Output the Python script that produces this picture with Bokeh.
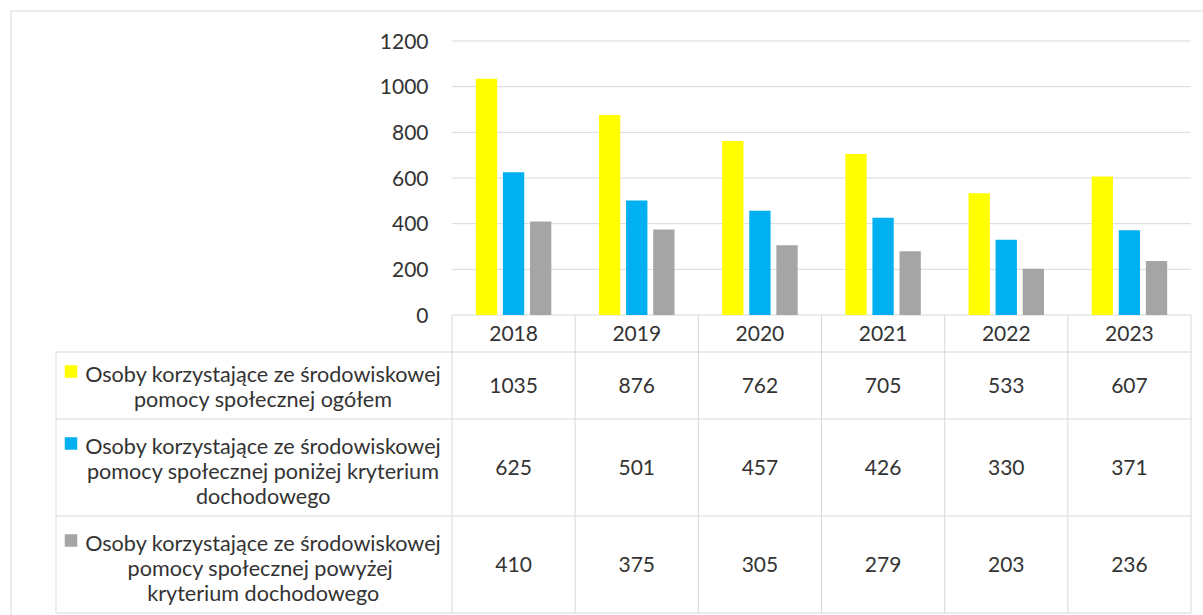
import numpy as np
from bokeh.plotting import figure
from bokeh.models import Range1d, FixedTicker
from bokeh.core.properties import value
from bokeh.embed import file_html
from bokeh.resources import INLINE

# ---------------- data ----------------
years = ["2018", "2019", "2020", "2021", "2022", "2023"]
ogolem = [1035, 876, 762, 705, 533, 607]
ponizej = [625, 501, 457, 426, 330, 371]
powyzej = [410, 375, 305, 279, 203, 236]
series_labels = [
    "Osoby korzystające ze środowiskowej\npomocy społecznej ogółem",
    "Osoby korzystające ze środowiskowej\npomocy społecznej poniżej kryterium\ndochodowego",
    "Osoby korzystające ze środowiskowej\npomocy społecznej  powyżej\nkryterium dochodowego",
]
colors = ["#FFFF00", "#00B0F0", "#A5A5A5"]
y_ticks = [0, 200, 400, 600, 800, 1000, 1200]

# ---------------- layout constants (page pixels) ----------------
FONT = "Lato"
FSIZE = "21px"
LSIZE = "21.6px"
TXT = "#333333"
LINE = "#D9D9D9"
W, H = 1203, 615
PLOT_L, PLOT_R = 451.5, 1190.5      # page x of year columns
PLOT_T, ZERO_Y = 40.5, 314.5        # page y of 1200 and 0
ROWS = [351.5, 418.5, 515.5, 612.5]  # table row boundaries (page y)
LAB_L = 55.5                        # left edge of legend column
BORDER = 10.5                       # outer chart border
n = len(years)
U = (PLOT_R - PLOT_L) / n
VPP = (y_ticks[-1] - y_ticks[0]) / (ZERO_Y - PLOT_T)


def X(px):
    return (px - PLOT_L) / U


def Y(py):
    return (ZERO_Y - py) * VPP


idx = np.arange(n)
vals = [ogolem, ponizej, powyzej]

p = figure(width=W, height=H, x_range=Range1d(X(0), X(W)), y_range=Range1d(Y(H), Y(0)),
           output_backend="svg", toolbar_location=None, x_axis_location=None,
           min_border_left=0, min_border_right=0, min_border_top=0, min_border_bottom=0)
p.outline_line_color = None
p.background_fill_color = "white"
p.border_fill_color = "white"
p.grid.visible = False

# y axis: labels right-aligned next to the plot area
p.yaxis.ticker = FixedTicker(ticks=y_ticks)
p.yaxis.axis_line_color = None
p.yaxis.major_tick_line_color = None
p.yaxis.minor_tick_line_color = None
p.yaxis.major_tick_out = 0
p.yaxis.major_tick_in = 0
p.yaxis.major_label_standoff = -428
p.yaxis.major_label_text_font = FONT
p.yaxis.major_label_text_font_size = FSIZE
p.yaxis.major_label_text_color = TXT

# gridlines over the plot area only
p.segment(x0=[0] * len(y_ticks), y0=y_ticks, x1=[n] * len(y_ticks), y1=y_ticks,
          line_color=LINE, line_width=1)

# bars
offs = [-0.22, 0.0, 0.22]
for k in range(3):
    p.vbar(x=idx + 0.5 + offs[k], top=vals[k], bottom=0, width=0.173,
           fill_color=colors[k], line_color=None)

# outer chart border (left & top)
p.segment(x0=[X(BORDER), X(BORDER)], y0=[Y(BORDER), Y(BORDER)],
          x1=[X(BORDER), X(W + 5)], y1=[Y(H + 5), Y(BORDER)], line_color=LINE, line_width=1)

# data-table grid
hx0 = [X(LAB_L)] * len(ROWS)
p.segment(x0=hx0, y0=[Y(r) for r in ROWS], x1=[n] * len(ROWS), y1=[Y(r) for r in ROWS],
          line_color=LINE, line_width=1)
vx = np.r_[idx, n]
p.segment(x0=vx, y0=[0] * len(vx), x1=vx, y1=[Y(ROWS[-1])] * len(vx), line_color=LINE, line_width=1)
p.segment(x0=[X(LAB_L)], y0=[Y(ROWS[0])], x1=[X(LAB_L)], y1=[Y(ROWS[-1])],
          line_color=LINE, line_width=1)

# header (years)
p.text(x=idx + 0.5, y=[Y((ZERO_Y + ROWS[0]) / 2 - 0.5)] * n, text=years, text_align="center",
       text_baseline="middle", text_font=value(FONT), text_font_size=FSIZE, text_color=TXT)

# values
row_c = [(ROWS[i] + ROWS[i + 1]) / 2 for i in range(3)]
for k in range(3):
    p.text(x=idx + 0.5, y=[Y(row_c[k])] * n, text=[str(v) for v in vals[k]],
           text_align="center", text_baseline="middle",
           text_font=value(FONT), text_font_size=FSIZE, text_color=TXT)

# legend labels, one text per line
LINE_H = 25
lx, ly, lt, sq_y = [], [], [], []
for k, lab in enumerate(series_labels):
    lines = lab.split("\n")
    m = len(lines)
    c = row_c[k] + (1 if m == 2 else 3.5)
    first = c - (m - 1) * LINE_H / 2
    for j, s in enumerate(lines):
        lx.append(X(262.7))
        ly.append(Y(first + j * LINE_H))
        lt.append(s)
    sq_y.append(Y(first - 2.5))
p.text(x=lx, y=ly, text=lt, text_align="center", text_baseline="middle",
       text_font=value(FONT), text_font_size=LSIZE, text_color=TXT)
p.scatter(x=[X(70.5)] * 3, y=sq_y, marker="square", size=12.5,
          fill_color=colors, line_color=None)

open("out.html", "w").write(file_html(p, INLINE))
